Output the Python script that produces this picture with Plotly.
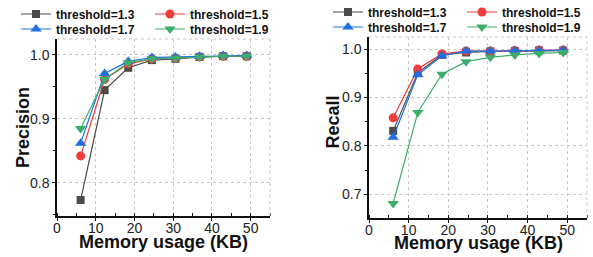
import plotly.graph_objects as go

memory_kb = [6.1, 12.3, 18.4, 24.5, 30.6, 36.8, 42.9, 49.0]
thresholds = ["threshold=1.3", "threshold=1.5", "threshold=1.7", "threshold=1.9"]

precision_13 = [0.773, 0.945, 0.980, 0.992, 0.994, 0.997, 0.998, 0.998]
precision_15 = [0.842, 0.962, 0.986, 0.994, 0.995, 0.997, 0.998, 0.998]
precision_17 = [0.862, 0.971, 0.990, 0.996, 0.997, 0.998, 0.999, 0.999]
precision_19 = [0.885, 0.962, 0.988, 0.994, 0.995, 0.997, 0.998, 0.998]

recall_13 = [0.831, 0.951, 0.988, 0.993, 0.995, 0.996, 0.997, 0.997]
recall_15 = [0.858, 0.959, 0.990, 0.996, 0.996, 0.997, 0.998, 0.998]
recall_17 = [0.818, 0.947, 0.986, 0.996, 0.996, 0.997, 0.997, 0.998]
recall_19 = [0.681, 0.869, 0.948, 0.974, 0.983, 0.988, 0.991, 0.993]

x_title = "Memory usage (KB)"
y_titles = ["Precision", "Recall"]

colors = ["#4a4a4a", "#ee3b3b", "#1f6fe0", "#3cae6a"]
symbols = ["square", "circle", "triangle-up", "triangle-down"]
msizes = [8, 9, 10, 10]

FONT = "Liberation Sans, Arial, sans-serif"

fig = go.Figure()
prec = [precision_13, precision_15, precision_17, precision_19]
rec = [recall_13, recall_15, recall_17, recall_19]
left_legends = ["legend", "legend", "legend2", "legend2"]
right_legends = ["legend3", "legend3", "legend4", "legend4"]

for i in range(4):
    fig.add_trace(go.Scatter(
        x=memory_kb, y=prec[i], name="<b>" + thresholds[i] + "</b>", mode="lines+markers",
        line=dict(color=colors[i], width=1.2),
        marker=dict(symbol=symbols[i], size=msizes[i], color=colors[i]),
        xaxis="x", yaxis="y", legend=left_legends[i]))
for i in range(4):
    fig.add_trace(go.Scatter(
        x=memory_kb, y=rec[i], name="<b>" + thresholds[i] + "</b>", mode="lines+markers",
        line=dict(color=colors[i], width=1.2),
        marker=dict(symbol=symbols[i], size=msizes[i], color=colors[i]),
        xaxis="x2", yaxis="y2", legend=right_legends[i]))

def xax(domain, anchor):
    return dict(domain=domain, anchor=anchor, range=[0, 55], dtick=10, tick0=0,
                automargin=False,
                showline=True, linecolor="#111", linewidth=1.5,
                ticks="outside", ticklen=3, tickcolor="#111", ticklabelstandoff=-5,
                minor=dict(ticks="inside", ticklen=3, dtick=5, tickcolor="#111", showgrid=False),
                showgrid=True, gridcolor="#c8c8c8", griddash="dot", gridwidth=1,
                zeroline=False,
                tickfont=dict(family=FONT, size=14, color="#222"))

def yax(domain, anchor, rng, tickvals):
    return dict(domain=domain, anchor=anchor, range=rng, tickvals=tickvals,
                tickformat=".1f", automargin=False,
                showline=True, linecolor="#111", linewidth=1.5,
                ticks="outside", ticklen=3, tickcolor="#111",
                minor=dict(ticks="outside", ticklen=2, dtick=0.05, tick0=0.0, tickcolor="#111", showgrid=False),
                showgrid=True, gridcolor="#c8c8c8", griddash="dot", gridwidth=1,
                zeroline=False,
                tickfont=dict(family=FONT, size=14, color="#222"))

W, H = 593, 257
leg_common = dict(orientation="h", entrywidth=89, entrywidthmode="pixels",
                  font=dict(family=FONT, size=12, color="#111"),
                  bgcolor="rgba(0,0,0,0)", xanchor="left", yanchor="middle",
                  itemwidth=30, tracegroupgap=0)

fig.update_layout(
    width=W, height=H, margin=dict(l=0, r=0, t=0, b=0, autoexpand=False),
    paper_bgcolor="white", plot_bgcolor="white",
    xaxis=xax([57 / W, 270 / W], "y"),
    yaxis=yax([1 - 216 / H, 1 - 39 / H], "x", [0.748, 1.025], [0.8, 0.9, 1.0]),
    xaxis2=xax([369 / W, 587 / W], "y2"),
    yaxis2=yax([1 - 218 / H, 1 - 37 / H], "x2", [0.651, 1.025], [0.7, 0.8, 0.9, 1.0]),
    legend=dict(x=16 / W, y=1 - 14 / H, **leg_common),
    legend2=dict(x=16 / W, y=1 - 29 / H, **leg_common),
    legend3=dict(x=328 / W, y=1 - 12 / H, **leg_common),
    legend4=dict(x=328 / W, y=1 - 27 / H, **leg_common),
    showlegend=True,
)

title_font = dict(family=FONT, size=18, color="#111")
# x-axis titles
fig.add_annotation(text="<b>" + x_title + "</b>", xref="x domain", x=0.5, yref="paper",
                   y=1 - 242 / H, xanchor="center", yanchor="middle", showarrow=False,
                   font=title_font)
fig.add_annotation(text="<b>" + x_title + "</b>", xref="x2 domain", x=0.5, yref="paper",
                   y=1 - 243 / H, xanchor="center", yanchor="middle", showarrow=False,
                   font=title_font)
# y-axis titles
fig.add_annotation(text="<b>" + y_titles[0] + "</b>", xref="paper", x=22.5 / W, yref="y domain",
                   y=0.5, xanchor="center", yanchor="middle", textangle=-90, showarrow=False,
                   font=title_font)
fig.add_annotation(text="<b>" + y_titles[1] + "</b>", xref="paper", x=333.5 / W, yref="y2 domain",
                   y=0.53, xanchor="center", yanchor="middle", textangle=-90, showarrow=False,
                   font=title_font)

for xr, yr in (("x domain", "y domain"), ("x2 domain", "y2 domain")):
    fig.add_shape(type="line", xref=xr, yref=yr, x0=0, x1=1, y0=1, y1=1,
                  line=dict(color="#c8c8c8", width=1, dash="dot"))
    fig.add_shape(type="line", xref=xr, yref=yr, x0=1, x1=1, y0=0, y1=1,
                  line=dict(color="#c8c8c8", width=1, dash="dot"))

fig.write_html("out.html", config={"displayModeBar": False},
               post_script="document.body.style.margin='0';document.body.style.overflow='hidden';")
